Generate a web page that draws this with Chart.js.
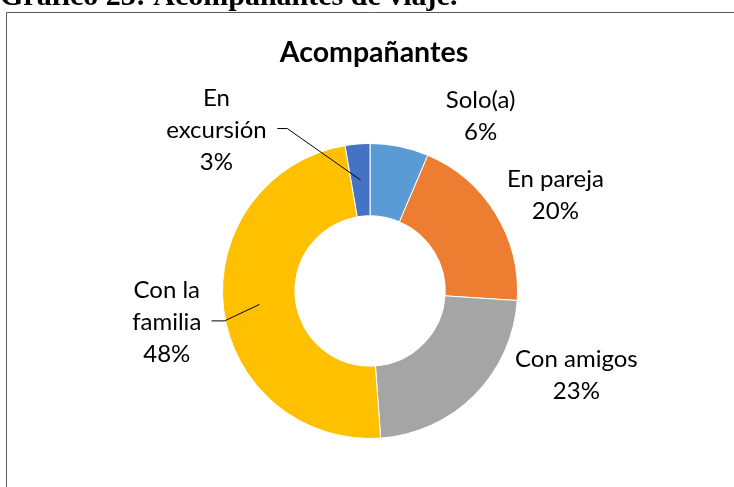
<!DOCTYPE html>
<html><head><meta charset="utf-8">
<script src="https://cdn.jsdelivr.net/npm/chart.js@4"></script>
<style>html,body{margin:0;padding:0;background:#fff;overflow:hidden}#c{display:block}</style>
</head>
<body>
<canvas id="c" width="734" height="487"></canvas>
<script>
const headerText = "Gráfico 23: Acompañantes de viaje.";
const chartTitle = "Acompañantes";
const categories = ["Solo(a)", "En pareja", "Con amigos", "Con la familia", "En excursión"];
const labelLines = [["Solo(a)"], ["En pareja"], ["Con amigos"], ["Con la", "familia"], ["En", "excursión"]];
const values = [6.4, 19.6, 22.8, 48.4, 2.7];
const colors = ["#5B9BD5", "#ED7D31", "#A5A5A5", "#FFC000", "#4472C4"];

// label anchor (first baseline, centre x) relative to doughnut centre, in units of outer radius
const labelPlacement = [
  {dx: 0.75, dy: -1.243},
  {dx: 1.257, dy: -0.703},
  {dx: 1.399, dy: 0.514},
  {dx: -1.378, dy: 0.047},
  {dx: -1.041, dy: -1.257}
];
// leader line start (relative, units of outer radius) and horizontal run in px
const leaders = [null, null, null, {sx: -159/148, sy: 30/148, run: 13}, {sx: -93/148, sy: -163/148, run: 10}];

const sum = values.reduce((a, b) => a + b, 0);

const overlay = {
  id: 'overlay',
  afterDraw(chart) {
    const ctx = chart.ctx;
    const meta = chart.getDatasetMeta(0);
    const a0 = meta.data[0];
    const cx = a0.x, cy = a0.y, R = a0.outerRadius, r = a0.innerRadius;
    ctx.save();
    // header
    ctx.fillStyle = '#000';
    ctx.textAlign = 'left';
    ctx.textBaseline = 'alphabetic';
    ctx.font = 'bold 30px "Liberation Serif", "Times New Roman", serif';
    ctx.fillText(headerText, 0, 5);
    // frame
    ctx.strokeStyle = '#5a5a5a';
    ctx.lineWidth = 1;
    ctx.beginPath();
    ctx.moveTo(6.5, 487);
    ctx.lineTo(6.5, 12.5);
    ctx.lineTo(734, 12.5);
    ctx.stroke();
    // title
    ctx.textAlign = 'center';
    ctx.font = 'bold 28.5px Lato, sans-serif';
    ctx.fillText(chartTitle, cx + 4, 62);
    // labels
    ctx.font = '24px Lato, sans-serif';
    const lh = 32;
    meta.data.forEach((arc, i) => {
      const p = labelPlacement[i];
      const lines = labelLines[i].concat([Math.round(values[i] / sum * 100) + '%']);
      const x = cx + p.dx * R, y = cy + p.dy * R;
      lines.forEach((t, k) => ctx.fillText(t, x, y + k * lh));
      const L = leaders[i];
      if (L) {
        const mid = (arc.startAngle + arc.endAngle) / 2;
        const mr = (R + r) / 2;
        const ex = cx + Math.cos(mid) * mr, ey = cy + Math.sin(mid) * mr;
        const sx = cx + L.sx * R, sy = cy + L.sy * R;
        ctx.strokeStyle = '#000';
        ctx.lineWidth = 1;
        ctx.beginPath();
        ctx.moveTo(sx, sy);
        ctx.lineTo(sx + L.run, sy);
        ctx.lineTo(ex, ey);
        ctx.stroke();
      }
    });
    ctx.restore();
  }
};

new Chart(document.getElementById('c'), {
  type: 'doughnut',
  data: {
    labels: categories,
    datasets: [{
      data: values,
      backgroundColor: colors,
      borderColor: '#ffffff',
      borderWidth: 1
    }]
  },
  options: {
    responsive: false,
    animation: false,
    devicePixelRatio: 1,
    cutout: '51%',
    layout: {padding: {top: 143, bottom: 48, left: 222, right: 216}},
    plugins: {legend: {display: false}, title: {display: false}, tooltip: {enabled: false}}
  },
  plugins: [overlay]
});
</script>
</body></html>
